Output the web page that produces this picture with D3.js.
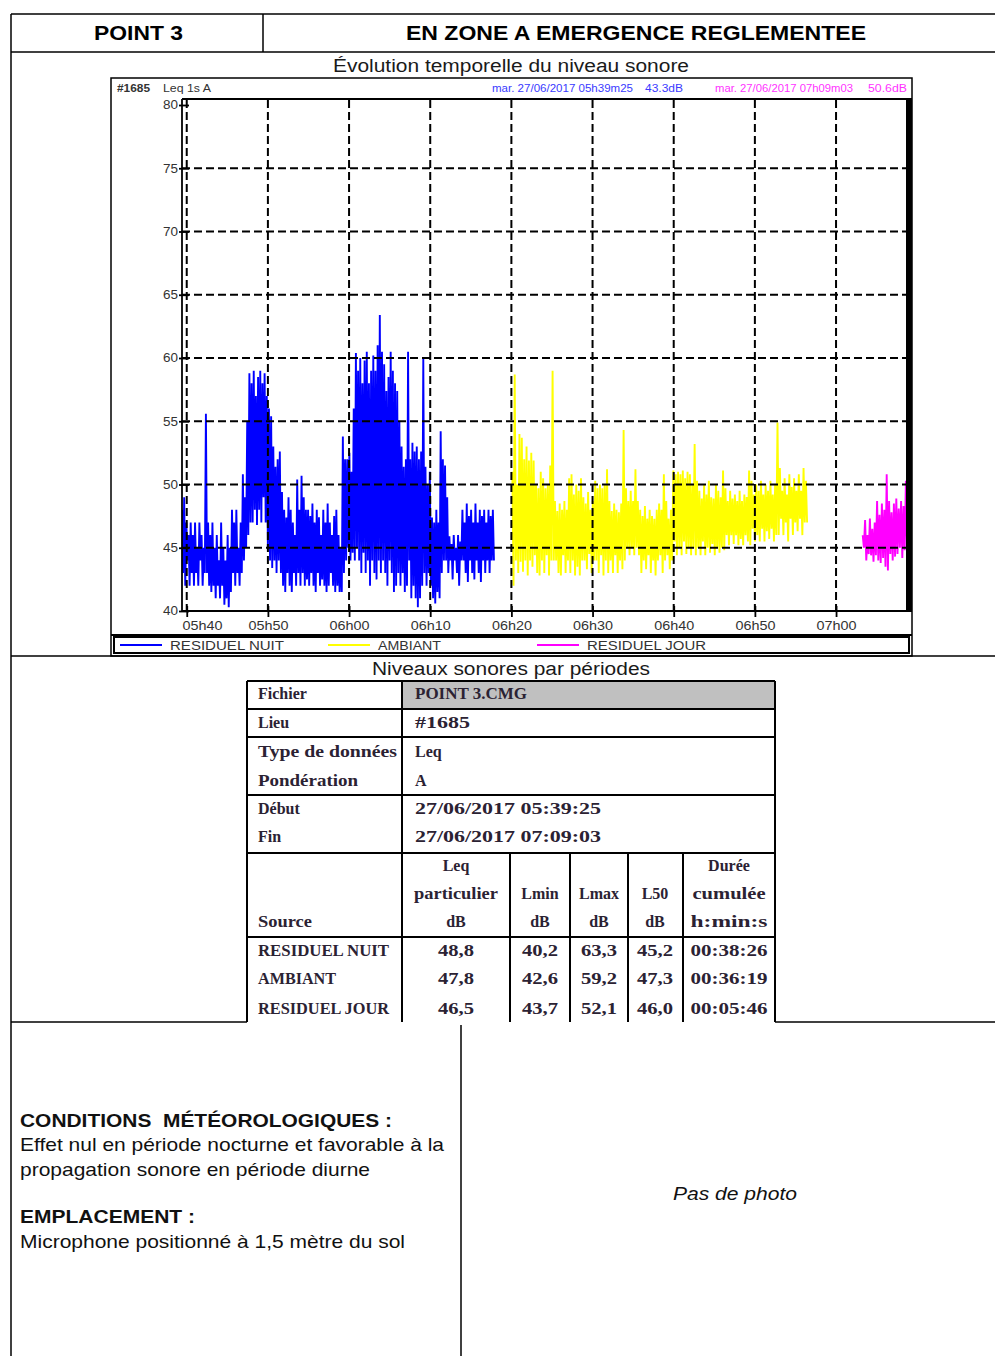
<!DOCTYPE html>
<html><head><meta charset="utf-8">
<script src="https://cdn.jsdelivr.net/npm/d3@7/dist/d3.min.js"></script>
<style>body{margin:0;background:#fff}svg{display:block}text{white-space:pre}</style>
</head><body><svg id="c" width="995" height="1356"></svg>
<script>
// ---------------- DATA ----------------
const yTickValues = [40, 45, 50, 55, 60, 65, 70, 75, 80];
const xTickTimes = ["05:40:00","05:50:00","06:00:00","06:10:00","06:20:00","06:30:00","06:40:00","06:50:00","07:00:00"];
const xTickLabels = ["05h40","05h50","06h00","06h10","06h20","06h30","06h40","06h50","07h00"];
const domainTimes = ["05:39:25", "07:09:03"];
const seriesNames = ["RESIDUEL NUIT", "AMBIANT", "RESIDUEL JOUR"];
const seriesStart = ["05:39:25", "06:20:07", "07:03:17"];
const seriesEnd = ["06:17:51", "06:56:26", "07:09:03"];
// Leq 1s A readings (alternating local highs / lows), dB
const residuelNuit = [
48,43, 49,42, 47,44, 46,42,
47,43, 46,42, 47,43, 45,42, 47,44, 46,42, 45,43,
55.6,43,
47,42, 46,41.5, 47,42, 45,41, 46,42, 44,41, 47,42, 45,40.5, 44,41, 46,40.3, 45,41.5,
48,43, 47,42, 48,43, 45,42, 47,43,
50.8,44, 49,45, 55,46,
58.8,47,
58,47, 59,48, 57,46.8, 58.5,48, 59,47, 58,49, 58.8,47, 57,45,
56,44, 55.4,43.4, 53,44,
51.4,43, 52,44, 52.6,43,
49.4,42, 48,41.5, 47.4,43, 49,42, 48,41.5,
47,43, 46,42, 50.4,43, 48,42, 50.7,43, 49,42, 48,42.5,
48,42, 47.5,43, 48.5,42, 47,41.5, 48,43, 47.4,42, 46,42.5, 48,42, 47,41.5, 48.5,42, 47,43, 46,42, 47.5,41.5, 48,42, 46,41.5, 45,41.5,
53.8,43, 52,44,
52,45, 52.5,44, 51,44.6,
56,44, 60.4,45, 59,44, 60,43, 58,44.6, 59.8,43, 60.5,44, 58,42, 59,44, 60.2,43, 59,42.5, 61,44, 63.4,43,
60.5,44, 59.5,43, 57.4,42, 58.5,44, 60.5,43, 59,41.5, 58,42, 57.4,43, 55,42,
53,43, 51.4,41.5, 52,42, 60.5,44, 52,41,
53.3,42, 52.6,41, 53,40.3, 52,41, 52.6,42,
60,43,
51.4,42, 50,43, 51,42,
47.4,41, 47,40.6, 48,41.5, 47,41,
54.2,43, 52,44,
51.5,44, 49,43,
45.9,44, 45.3,42.5, 46,44, 45,43, 46,42, 45.5,44,
48,44, 47,43, 48.5,42.3, 47.5,44, 48,43, 47,42.5, 48.5,44, 47,43, 48,42.3, 47.5,44, 48,43, 47,44, 48,43, 47.5,44, 48,44
];
const ambiant = [
51,42, 58.7,44, 50,43,
54,43.9, 53.7,43.1,
52,44, 53,42.8, 51.9,44, 52.5,43.5,
51.9,44.4, 50,43, 49.7,42.8, 51,44, 50.5,43, 49.7,44.4, 50,42.8, 51.5,44,
59,44,
48.7,44, 47.9,43, 48.5,42.8, 48,44.4, 48.7,43, 48,44, 50.5,43,
50.8,44, 49.2,42.8, 50,43.5, 49.5,42.8, 50.5,44,
49,44, 48.5,43.3, 49.4,44.5, 48,43, 48.7,44,
50.3,44, 49.7,43, 50,44.4, 49.7,42.8, 50,44, 51.2,43,
48.7,44, 47.9,43, 48.5,44.4, 48,43, 47.8,44, 48.5,43.3,
54.3,44,
49.7,45, 48.7,44.4, 49.5,45, 48.7,44.4, 51.2,45,
48.7,44.4, 48,43, 47.5,44, 48.3,43.3, 47.3,44.4, 48,43, 47.5,44, 47.3,42.8, 48,44,
48.5,44.4, 48,43, 50.8,44,
48.7,44.4, 47.3,43.3, 48,44,
51.1,45.5, 50.8,44.4, 51,45, 50.8,44.4, 51.1,45.5, 50.5,44.5, 51,45, 50.8,44.4,
50,45, 53.2,44.4,
50.3,45, 49.5,44.4, 48.9,45.5, 50,44.4, 49.2,45, 50.3,44.6, 49,45.3, 48.9,44.4, 50,45, 49.5,44.6, 49,45, 51.1,44.8,
49.7,46, 48.7,45.2, 49.5,46, 48.9,45.3, 49.2,46, 48.7,45.2, 49.5,45.7, 48.7,45.2, 49.2,46, 49,45.5,
51.1,45.2,
50.3,46.5, 49.2,45.5, 50,46, 49.5,45.5, 50.3,46.5, 49.2,45.5, 50,46.3, 49.5,45.7, 50.3,46.5, 49.2,45.5, 50,46,
54.9,46,
51.3,47.3, 49.5,46, 50.5,47, 49.2,45.5, 50.8,47.3, 49.8,46, 50.5,47, 49.5,46.3, 50.8,47.3, 49.5,46, 51.3,47, 50.3,47
];
const residuelJour = [
46,45, 47.2,44, 46,44.5, 47.3,44.4, 46.5,43.9, 47,44.4, 48.7,44, 47.6,43.8, 48.5,44.2, 48,43.5,
50.8,43.2, 48.7,44.5, 47.8,44, 48.5,44.3, 48.9,44.5, 48.1,45, 48.7,44.2, 48.3,44.8, 50.3,45, 48.5,44.6
];
const seriesValues = [residuelNuit, ambiant, residuelJour];
const seriesColors = ["#0000ff", "#ffff00", "#ff00ff"];

const metaLabels = ["Fichier", "Lieu", "Type de données", "Pondération", "Début", "Fin"];
const metaValues = ["POINT 3.CMG", "#1685", "Leq", "A", "27/06/2017 05:39:25", "27/06/2017 07:09:03"];
const colHeaders = [["Leq","particulier","dB"], ["","Lmin","dB"], ["","Lmax","dB"], ["","L50","dB"], ["Durée","cumulée","h:min:s"]];
const tableSources = ["RESIDUEL NUIT", "AMBIANT", "RESIDUEL JOUR"];
const leqValues = ["48,8", "47,8", "46,5"];
const lminValues = ["40,2", "42,6", "43,7"];
const lmaxValues = ["63,3", "59,2", "52,1"];
const l50Values = ["45,2", "47,3", "46,0"];
const dureeValues = ["00:38:26", "00:36:19", "00:05:46"];

// ---------------- DRAWING ----------------
const svg = d3.select("#c");
const parseT = d3.timeParse("%H:%M:%S");

function txt(g, x, y, s, o = {}) {
  const t = g.append("text").attr("x", x).attr("y", y).text(s)
    .attr("font-family", o.ff || "Liberation Sans")
    .attr("font-size", o.fs || 14)
    .attr("fill", o.fill || "#111");
  if (o.fw) t.attr("font-weight", o.fw);
  if (o.italic) t.attr("font-style", "italic");
  if (o.anchor) t.attr("text-anchor", o.anchor);
  if (o.w) t.attr("textLength", o.w).attr("lengthAdjust", "spacingAndGlyphs");
  return t;
}
function ln(x1, y1, x2, y2, w = 1.5, c = "#000") {
  svg.append("line").attr("x1", x1).attr("y1", y1).attr("x2", x2).attr("y2", y2)
    .attr("stroke", c).attr("stroke-width", w);
}

// page frame
ln(11, 14, 995, 14); ln(11, 52, 995, 52); ln(11, 14, 11, 1356);
ln(263, 14, 263, 52);
ln(11, 656, 995, 656);
ln(11, 1022, 247, 1022); ln(775, 1022, 995, 1022);
ln(461, 1025, 461, 1356);

txt(svg, 94, 40, "POINT 3", {fs: 20, fw: "bold", w: 89, fill: "#000"});
txt(svg, 406, 40, "EN ZONE A EMERGENCE REGLEMENTEE", {fs: 20, fw: "bold", w: 460, fill: "#000"});

// ---------- chart ----------
txt(svg, 333, 72, "Évolution temporelle du niveau sonore", {fs: 18, w: 356, fill: "#1a1a1a"});

svg.append("rect").attr("x", 111).attr("y", 78).attr("width", 801).attr("height", 578)
  .attr("fill", "none").attr("stroke", "#000").attr("stroke-width", 1.5);

const x = d3.scaleTime().domain(domainTimes.map(parseT)).range([182, 909.5]);
const y = d3.scaleLinear().domain([40, 80]).range([611, 105]);

const plot = svg.append("g");
plot.append("defs").append("clipPath").attr("id", "clip")
  .append("rect").attr("x", 182).attr("y", 99).attr("width", 730).attr("height", 513);

// series
const line = d3.line().x(d => x(d.t)).y(d => y(d.v));
seriesValues.forEach((vals, k) => {
  const idx = d3.scaleLinear().domain([0, vals.length - 1])
    .range([parseT(seriesStart[k]), parseT(seriesEnd[k])].map(Number));
  const pts = vals.map((v, i) => ({t: new Date(idx(i)), v}));
  plot.append("path").datum(pts).attr("d", line)
    .attr("fill", "none").attr("stroke", seriesColors[k]).attr("stroke-width", 1.9)
    .attr("stroke-linejoin", "bevel").attr("clip-path", "url(#clip)");
});

// grid
const grid = svg.append("g").attr("stroke", "#000").attr("stroke-width", 2).attr("stroke-dasharray", "8,4");
grid.selectAll("line.h").data(yTickValues.filter(v => v > 40 && v < 80)).join("line")
  .attr("x1", 182).attr("x2", 906).attr("y1", d => y(d)).attr("y2", d => y(d));
grid.selectAll("line.v").data(xTickTimes).join("line")
  .attr("x1", d => x(parseT(d))).attr("x2", d => x(parseT(d))).attr("y1", 100).attr("y2", 611);

// frame of plot
ln(182, 99, 912, 99, 1.8);
ln(182, 99, 182, 612, 1.8);
ln(182, 611, 912, 611, 1.8);
svg.append("rect").attr("x", 906).attr("y", 99).attr("width", 6).attr("height", 513).attr("fill", "#000");
ln(111, 635, 912, 635, 1.8);

// axes
const yAxis = d3.axisLeft(y).tickValues(yTickValues).tickSize(10).tickPadding(1).tickFormat(d3.format("d"));
const gy = svg.append("g").attr("transform", "translate(189,0)").call(yAxis);
gy.select(".domain").remove();
gy.selectAll(".tick line").attr("stroke-width", 1.8);
gy.selectAll("text").attr("font-family", "Liberation Sans").attr("font-size", 12).attr("fill", "#333")
  .attr("textLength", 15).attr("lengthAdjust", "spacingAndGlyphs");

const xAxis = d3.axisBottom(x).tickValues(xTickTimes.map(parseT)).tickSize(11).tickPadding(4)
  .tickFormat((d, i) => xTickLabels[i]);
const gx = svg.append("g").attr("transform", "translate(0,606)").call(xAxis);
gx.select(".domain").remove();
gx.selectAll(".tick line").attr("stroke-width", 1.8);
gx.selectAll("text").attr("font-family", "Liberation Sans").attr("font-size", 13).attr("fill", "#333")
  .attr("textLength", 40).attr("lengthAdjust", "spacingAndGlyphs");
gx.select(".tick text").attr("text-anchor", "start").attr("x", 182 - x(parseT(xTickTimes[0])));

// info row
txt(svg, 117, 92, "#1685", {fs: 10, fw: "bold", w: 33, fill: "#333"});
txt(svg, 163, 92, "Leq 1s A", {fs: 10, w: 48, fill: "#333"});
txt(svg, 492, 92, "mar. 27/06/2017 05h39m25", {fs: 10, w: 141, fill: "#3a3aff"});
txt(svg, 645, 92, "43.3dB", {fs: 10, w: 38, fill: "#3a3aff"});
txt(svg, 715, 92, "mar. 27/06/2017 07h09m03", {fs: 10, w: 138, fill: "#ff33ff"});
txt(svg, 868, 92, "50.6dB", {fs: 10, w: 39, fill: "#ff33ff"});

// legend
svg.append("rect").attr("x", 114).attr("y", 637).attr("width", 795).attr("height", 16)
  .attr("fill", "none").attr("stroke", "#000").attr("stroke-width", 2);
const legX = [120, 328, 537];
const legW = [114, 63, 119];
seriesNames.forEach((n, k) => {
  ln(legX[k], 645, legX[k] + 42, 645, 2, seriesColors[k]);
  txt(svg, legX[k] + 50, 650, n, {fs: 12, w: legW[k], fill: "#333"});
});

// ---------- table ----------
txt(svg, 372, 675, "Niveaux sonores par périodes", {fs: 18, w: 278, fill: "#1a1a1a"});
const tg = svg.append("g");
tg.append("rect").attr("x", 402).attr("y", 681).attr("width", 373).attr("height", 28).attr("fill", "#c0c0c0");
const tl = (a, b, c, d) => tg.append("line").attr("x1", a).attr("y1", b).attr("x2", c).attr("y2", d)
  .attr("stroke", "#000").attr("stroke-width", 2);
[681, 709, 737, 795, 853, 937].forEach(v => tl(247, v, 775, v));
[247, 402, 775].forEach(v => tl(v, 681, v, 1022));
[510, 570, 628, 683].forEach(v => tl(v, 853, v, 1022));

const serif = {ff: "Liberation Serif", fs: 16, fw: "bold", fill: "#2b2233"};
const metaY = [699, 728, 757, 786, 814, 842];
const wideW = {"POINT 3.CMG": 112, "#1685": 55, "27/06/2017 05:39:25": 186, "27/06/2017 07:09:03": 186,
  "Type de données": 139, "Pondération": 100, "particulier": 84, "cumulée": 73, "h:min:s": 77};
metaLabels.forEach((s, i) => txt(tg, 258, metaY[i], s, Object.assign({}, serif, {w: wideW[s]})));
metaValues.forEach((s, i) => txt(tg, 415, metaY[i], s, Object.assign({}, serif, {w: wideW[s]})));

const colC = [456, 540, 599, 655, 729];
const hdrY = [871, 899, 927];
colHeaders.forEach((h, c) => h.forEach((s, r) => {
  if (s) txt(tg, colC[c], hdrY[r], s, Object.assign({}, serif, {anchor: "middle", w: wideW[s]}));
}));
txt(tg, 258, 927, "Source", Object.assign({}, serif, {w: 54}));
const rowY = [956, 984, 1014];
const cols = [leqValues, lminValues, lmaxValues, l50Values, dureeValues];
tableSources.forEach((s, i) => {
  txt(tg, 258, rowY[i], s, Object.assign({}, serif, {w: i === 1 ? 78 : 131}));
  cols.forEach((arr, c) => txt(tg, colC[c], rowY[i], arr[i],
    Object.assign({}, serif, {anchor: "middle", w: c === 4 ? 77 : 36})));
});

// ---------- bottom ----------
const sans = {ff: "Liberation Sans", fs: 18.5, fill: "#111"};
txt(svg, 20, 1127, "CONDITIONS  MÉTÉOROLOGIQUES :", Object.assign({}, sans, {fw: "bold", w: 372}));
txt(svg, 20, 1151, "Effet nul en période nocturne et favorable à la", Object.assign({}, sans, {w: 424}));
txt(svg, 20, 1176, "propagation sonore en période diurne", Object.assign({}, sans, {w: 350}));
txt(svg, 20, 1223, "EMPLACEMENT :", Object.assign({}, sans, {fw: "bold", w: 175}));
txt(svg, 20, 1248, "Microphone positionné à 1,5 mètre du sol", Object.assign({}, sans, {w: 385}));
txt(svg, 673, 1200, "Pas de photo", Object.assign({}, sans, {italic: true, w: 124}));
</script>
</body></html>
